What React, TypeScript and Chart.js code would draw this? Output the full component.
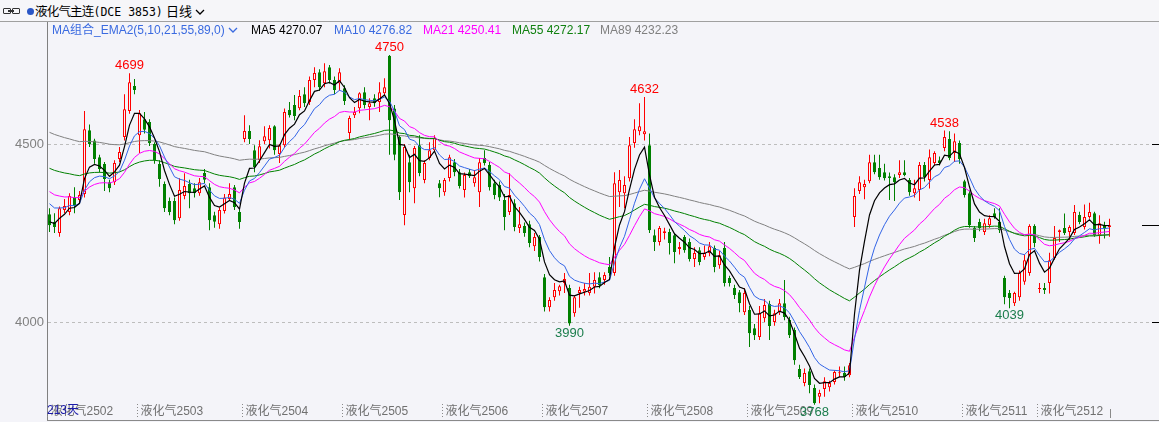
import React, { useEffect, useRef } from 'react';
import { Chart, registerables } from 'chart.js';

Chart.register(...registerables);

// ---- data (daily OHLC) ----
const opens = [
  4303, 4281, 4250, 4315, 4309, 4351, 4343, 4360, 4539, 4510, 4463, 4444, 4393, 4393, 4458, 4520, 4593, 4663, 4525, 4570,
  4562, 4500, 4444, 4388, 4340, 4340, 4292, 4354, 4388, 4376, 4362, 4419, 4379, 4300, 4275, 4312, 4346, 4379, 4309, 4514,
  4537, 4483, 4455, 4508, 4511, 4550, 4472, 4497, 4596, 4610, 4601, 4640, 4618, 4680, 4702, 4671, 4716, 4680, 4671, 4657,
  4531, 4581, 4601, 4646, 4604, 4629, 4618, 4643, 4748, 4600, 4520, 4301, 4449, 4376, 4497, 4399, 4461, 4483, 4390, 4365,
  4405, 4449, 4421, 4371, 4421, 4390, 4365, 4461, 4441, 4390, 4385, 4343, 4309, 4334, 4264, 4270, 4275, 4213, 4239, 4126,
  4042, 4070, 4087, 4110, 4096, 4025, 4082, 4085, 4082, 4099, 4126, 4118, 4155, 4138, 4365, 4362, 4404, 4503, 4536, 4528,
  4497, 4244, 4225, 4250, 4253, 4244, 4205, 4239, 4225, 4177, 4202, 4183, 4194, 4208, 4160, 4208, 4124, 4096, 4084, 4028,
  4034, 3983, 3958, 4011, 4051, 4000, 4028, 4053, 4006, 3978, 3868, 3829, 3862, 3815, 3790, 3812, 3817, 3832, 3856, 3857,
  3851, 4295, 4368, 4379, 4396, 4449, 4433, 4421, 4410, 4407, 4413, 4421, 4399, 4362, 4371, 4441, 4399, 4447, 4455, 4489,
  4514, 4475, 4503, 4396, 4362, 4264, 4281, 4253, 4272, 4306, 4281, 4124, 4082, 4053, 4070, 4113, 4138, 4270, 4093, 4096,
  4110, 4180, 4253, 4264, 4253, 4250, 4301, 4267, 4295, 4306, 4244, 4270, 4267,
];
const highs = [
  4320, 4306, 4325, 4346, 4362, 4379, 4368, 4593, 4555, 4515, 4470, 4450, 4400, 4455, 4492, 4640, 4699, 4683, 4596, 4590,
  4570, 4505, 4455, 4395, 4350, 4350, 4404, 4418, 4400, 4390, 4405, 4430, 4390, 4310, 4322, 4360, 4390, 4385, 4315, 4581,
  4553, 4497, 4511, 4550, 4553, 4553, 4500, 4600, 4618, 4638, 4652, 4660, 4690, 4716, 4710, 4727, 4722, 4690, 4713, 4665,
  4580, 4604, 4646, 4660, 4629, 4640, 4674, 4685, 4750, 4610, 4525, 4500, 4470, 4495, 4525, 4455, 4505, 4525, 4399, 4405,
  4470, 4458, 4430, 4420, 4430, 4427, 4461, 4483, 4450, 4400, 4395, 4360, 4418, 4345, 4323, 4280, 4285, 4250, 4245, 4135,
  4070, 4110, 4105, 4138, 4105, 4075, 4099, 4110, 4138, 4140, 4140, 4140, 4183, 4421, 4427, 4410, 4520, 4570, 4615, 4632,
  4530, 4260, 4270, 4265, 4262, 4250, 4225, 4245, 4235, 4210, 4210, 4215, 4225, 4215, 4200, 4225, 4130, 4105, 4090, 4095,
  4045, 3995, 4045, 4065, 4060, 4035, 4065, 4118, 4015, 3985, 3880, 3870, 3870, 3825, 3810, 3845, 3835, 3865, 3875, 3875,
  3885, 4376, 4410, 4400, 4470, 4470, 4470, 4445, 4420, 4415, 4455, 4455, 4405, 4400, 4450, 4450, 4485, 4480, 4465, 4538,
  4536, 4530, 4510, 4400, 4370, 4270, 4290, 4290, 4300, 4320, 4320, 4130, 4090, 4085, 4145, 4190, 4275, 4275, 4110, 4110,
  4195, 4270, 4260, 4305, 4272, 4329, 4310, 4330, 4335, 4310, 4300, 4282, 4290,
];
const lows = [
  4253, 4250, 4240, 4306, 4300, 4306, 4335, 4350, 4492, 4445, 4420, 4368, 4365, 4385, 4450, 4510, 4585, 4640, 4475, 4530,
  4495, 4445, 4380, 4309, 4300, 4275, 4285, 4345, 4320, 4350, 4355, 4390, 4258, 4265, 4262, 4305, 4340, 4315, 4262, 4505,
  4500, 4421, 4447, 4500, 4488, 4470, 4447, 4490, 4575, 4567, 4595, 4604, 4610, 4660, 4650, 4660, 4670, 4640, 4650, 4610,
  4511, 4573, 4587, 4600, 4567, 4605, 4590, 4635, 4470, 4455, 4343, 4272, 4365, 4334, 4410, 4390, 4455, 4478, 4351, 4355,
  4395, 4410, 4375, 4350, 4405, 4380, 4323, 4440, 4370, 4345, 4340, 4258, 4301, 4255, 4250, 4240, 4210, 4200, 4170, 4030,
  4030, 4060, 4075, 4082, 3990, 4015, 4040, 4075, 4075, 4080, 4095, 4105, 4130, 4130, 4323, 4320, 4395, 4490, 4525, 4510,
  4250, 4200, 4215, 4232, 4190, 4165, 4190, 4195, 4170, 4155, 4160, 4175, 4185, 4140, 4150, 4100, 4100, 4065, 4028, 4020,
  3930, 3950, 3950, 4000, 3950, 3990, 4020, 4005, 3955, 3880, 3840, 3820, 3800, 3768, 3772, 3790, 3805, 3825, 3845, 3835,
  3845, 4267, 4360, 4345, 4390, 4415, 4400, 4398, 4343, 4340, 4405, 4410, 4355, 4350, 4340, 4395, 4375, 4440, 4440, 4480,
  4455, 4450, 4445, 4350, 4265, 4225, 4255, 4245, 4265, 4290, 4250, 4050, 4039, 4045, 4060, 4105, 4130, 4210, 4082, 4079,
  4080, 4175, 4225, 4245, 4230, 4245, 4275, 4260, 4290, 4240, 4220, 4235, 4240,
];
const closes = [
  4272, 4267, 4320, 4326, 4354, 4326, 4357, 4542, 4500, 4458, 4430, 4402, 4376, 4447, 4478, 4598, 4674, 4652, 4587, 4540,
  4503, 4455, 4402, 4320, 4309, 4286, 4371, 4382, 4362, 4362, 4393, 4400, 4286, 4282, 4315, 4350, 4360, 4323, 4281, 4537,
  4514, 4435, 4494, 4522, 4545, 4483, 4497, 4590, 4581, 4579, 4635, 4615, 4680, 4700, 4660, 4705, 4680, 4652, 4702, 4621,
  4573, 4590, 4643, 4610, 4615, 4615, 4646, 4660, 4567, 4470, 4365, 4492, 4393, 4489, 4419, 4447, 4483, 4517, 4376, 4399,
  4463, 4421, 4382, 4413, 4410, 4407, 4449, 4447, 4379, 4357, 4350, 4295, 4357, 4267, 4275, 4250, 4222, 4239, 4183, 4042,
  4062, 4090, 4101, 4121, 3996, 4070, 4090, 4093, 4099, 4118, 4104, 4132, 4138, 4390, 4399, 4385, 4497, 4542, 4550, 4536,
  4258, 4225, 4264, 4255, 4222, 4197, 4211, 4202, 4177, 4194, 4169, 4194, 4213, 4155, 4188, 4110, 4110, 4076, 4053, 4082,
  3969, 3963, 4025, 4048, 3989, 4025, 4053, 4014, 3963, 3893, 3846, 3857, 3823, 3772, 3801, 3834, 3829, 3860, 3859, 3846,
  3879, 4354, 4393, 4388, 4449, 4421, 4407, 4404, 4405, 4393, 4421, 4413, 4365, 4376, 4441, 4407, 4463, 4475, 4447, 4520,
  4461, 4508, 4458, 4357, 4272, 4236, 4264, 4278, 4292, 4295, 4258, 4070, 4068, 4082, 4138, 4174, 4270, 4222, 4096, 4090,
  4174, 4236, 4258, 4250, 4267, 4309, 4281, 4295, 4309, 4244, 4278, 4264, 4272,
];

const maPeriods = [5, 10, 21, 55, 89];
const maSeeds = [4287, 4346, 4376, 4438, 4539];
const maColors = ['#000000', '#3264e6', '#ff00ff', '#008000', '#808080'];
const maLegend = ['MA5 4270.07', 'MA10 4276.82', 'MA21 4250.41', 'MA55 4272.17', 'MA89 4232.23'];
const legendColors = ['#000000', '#3a6ae0', '#ff00ff', '#108010', '#808080'];
const legendX = [251, 334, 423, 512, 600];

const xTickIdx = [0, 18, 39, 59, 79, 99, 120, 140, 161, 183, 198];
const xTickLabels = [
  '液化气2502', '液化气2503', '液化气2504', '液化气2505', '液化气2506', '液化气2507',
  '液化气2508', '液化气2509', '液化气2510', '液化气2511', '液化气2512',
];
const yTicks = [4000, 4500];
const highMarks = [16, 68, 119, 179];
const lowMarks = [104, 153, 192];
const dayCountLabel = '213天';

const BG = '#f4f4f9';
const UP = '#ff0000';
const DOWN = '#008000';

function ema(values: number[], n: number, seed: number): number[] {
  const a = 2 / (n + 1);
  let e = seed;
  return values.map((v) => (e = e + a * (v - e)));
}

const Chevron = ({ color }: { color: string }) => (
  <svg width="10" height="7" style={{ display: 'inline-block', verticalAlign: 'middle', marginLeft: 3 }}>
    <polyline points="1,1 5,5 9,1" fill="none" stroke={color} strokeWidth="1.3" />
  </svg>
);

export default function App() {
  const ref = useRef<HTMLCanvasElement | null>(null);

  useEffect(() => {
    const canvas = ref.current;
    if (!canvas) return;
    const idx = closes.map((_, i) => i);
    const up = closes.map((c, i) => c >= opens[i]);
    const mas = maPeriods.map((p, k) => ema(closes, p, maSeeds[k]));

    const overlay = {
      id: 'overlay',
      afterDatasetsDraw(chart: any) {
        const { ctx, chartArea } = chart;
        const x = chart.scales.x;
        const y = chart.scales.y;
        ctx.save();
        // bottom axis line
        ctx.strokeStyle = '#8a8a8a';
        ctx.lineWidth = 1;
        ctx.beginPath();
        ctx.moveTo(chartArea.left, Math.round(chartArea.bottom) + 0.5);
        ctx.lineTo(chartArea.right, Math.round(chartArea.bottom) + 0.5);
        ctx.stroke();

        // x labels inside the plot, with dotted tick marks
        const ly = chartArea.bottom - 9;
        ctx.font = '12px "Liberation Sans", "Noto Sans CJK SC", sans-serif';
        ctx.textBaseline = 'middle';
        ctx.textAlign = 'left';
        xTickIdx.forEach((k, j) => {
          const px = Math.round(x.getPixelForValue(k - 0.5)) + 0.5;
          ctx.strokeStyle = '#8a8a8a';
          ctx.setLineDash([1, 2]);
          ctx.beginPath();
          ctx.moveTo(px, ly - 7);
          ctx.lineTo(px, ly + 7);
          ctx.stroke();
          ctx.setLineDash([]);
          ctx.fillStyle = '#707070';
          ctx.fillText(xTickLabels[j], px + 3, ly + 1);
        });
        // end marker
        const ex = Math.round(x.getPixelForValue(closes.length - 1)) + 0.5;
        ctx.strokeStyle = '#8a8a8a';
        ctx.beginPath();
        ctx.moveTo(ex, ly - 2);
        ctx.lineTo(ex, ly + 7);
        ctx.stroke();
        // day count
        ctx.fillStyle = '#1a1aa8';
        ctx.fillText(dayCountLabel, chartArea.left, ly);

        // extreme annotations
        ctx.font = '13px "Liberation Sans", sans-serif';
        ctx.textAlign = 'center';
        ctx.textBaseline = 'bottom';
        ctx.fillStyle = '#ff0000';
        highMarks.forEach((i) => {
          ctx.fillText(String(highs[i]), x.getPixelForValue(i), y.getPixelForValue(highs[i]) - 1);
        });
        ctx.textBaseline = 'top';
        ctx.fillStyle = '#1b7d4c';
        lowMarks.forEach((i) => {
          ctx.fillText(String(lows[i]), x.getPixelForValue(i), y.getPixelForValue(lows[i]) + 1);
        });

        // right side markers
        ctx.strokeStyle = '#000000';
        yTicks.forEach((v) => {
          const py = Math.round(y.getPixelForValue(v)) + 0.5;
          ctx.beginPath();
          ctx.moveTo(chartArea.right - 7, py);
          ctx.lineTo(chartArea.right, py);
          ctx.stroke();
        });
        const lp = Math.round(y.getPixelForValue(closes[closes.length - 1])) + 0.5;
        ctx.beginPath();
        ctx.moveTo(chartArea.right - 17, lp);
        ctx.lineTo(chartArea.right, lp);
        ctx.stroke();
        ctx.restore();
      },
    };

    const chart = new Chart(canvas, {
      type: 'bar',
      data: {
        datasets: [
          ...maPeriods.map((p, k) => ({
            type: 'line' as const,
            label: 'MA' + p,
            data: mas[k].map((v, i) => ({ x: i, y: v })),
            borderColor: maColors[k],
            borderWidth: k === 0 ? 1.2 : 1,
            pointRadius: 0,
            tension: 0,
            order: 0,
          })),
          {
            type: 'bar' as const,
            label: 'body',
            data: idx.map((i) => ({ x: i, y: [opens[i], closes[i]] })),
            backgroundColor: up.map((u) => (u ? BG : DOWN)),
            borderColor: up.map((u) => (u ? UP : DOWN)),
            borderWidth: 1,
            borderSkipped: false,
            barThickness: 3,
            minBarLength: 1,
            grouped: false,
            inflateAmount: 0,
            order: 1,
          },
          {
            type: 'bar' as const,
            label: 'wick',
            data: idx.map((i) => ({ x: i, y: [lows[i], highs[i]] })),
            backgroundColor: up.map((u) => (u ? UP : DOWN)),
            borderWidth: 0,
            barThickness: 1,
            grouped: false,
            inflateAmount: 0,
            order: 2,
          },
        ] as any,
      },
      options: {
        animation: false,
        responsive: false,
        devicePixelRatio: 1,
        events: [],
        layout: { padding: { top: 0, right: 0, bottom: 2, left: 0 } },
        plugins: { legend: { display: false }, tooltip: { enabled: false } },
        scales: {
          x: { type: 'linear', min: -0.5, max: 221.9, display: false, offset: false },
          y: {
            type: 'linear',
            position: 'left',
            min: 3725,
            max: 4843,
            afterBuildTicks: (s: any) => {
              s.ticks = yTicks.map((v) => ({ value: v }));
            },
            afterFit: (s: any) => {
              s.width = 47;
              s.paddingTop = 0;
              s.paddingBottom = 0;
            },
            grid: { color: '#bdbdbd', lineWidth: 1, drawTicks: false },
            border: { display: true, color: '#808080', width: 1, dash: [3, 3] },
            ticks: {
              padding: 3,
              color: '#808080',
              font: { family: 'Liberation Sans', size: 13 },
              callback: (v: any) => String(v),
            },
          },
        },
      } as any,
      plugins: [overlay],
    });
    return () => chart.destroy();
  }, []);

  return (
    <div
      style={{
        position: 'absolute',
        left: 0,
        top: 0,
        width: 1159,
        height: 422,
        background: BG,
        overflow: 'hidden',
        fontFamily: '"Liberation Sans", "Noto Sans CJK SC", sans-serif',
      }}
    >
      {/* header bar */}
      <div style={{ position: 'absolute', left: 0, top: 0, width: 1159, height: 21, background: '#f6f6f9', borderBottom: '1px solid #a0a0a0' }}>
        <div style={{ position: 'absolute', left: 3, top: 8, width: 6, height: 4, border: '1.5px solid #333', borderRadius: 1 }} />
        <div style={{ position: 'absolute', left: 12, top: 8, width: 6, height: 4, border: '1.5px solid #333', borderRadius: 1 }} />
        <div style={{ position: 'absolute', left: 8, top: 10, width: 6, height: 1.5, background: '#333' }} />
        <div style={{ position: 'absolute', left: 27, top: 8, width: 7, height: 7, borderRadius: '50%', background: '#2a56c6' }} />
        <div style={{ position: 'absolute', left: 35, top: 2, height: 18, lineHeight: '18px', whiteSpace: 'nowrap', color: '#000' }}>
          <span style={{ fontFamily: '"Noto Sans CJK SC"', fontSize: 12.5, letterSpacing: -0.8 }}>液化气主连</span>
          <span style={{ fontFamily: '"DejaVu Sans Mono"', fontSize: 11.5 }}>(DCE 3853)</span>
        </div>
        <div style={{ position: 'absolute', left: 166, top: 2, height: 18, lineHeight: '18px', whiteSpace: 'nowrap', color: '#000', fontFamily: '"Noto Sans CJK SC"', fontSize: 13 }}>
          日线<Chevron color="#000" />
        </div>
      </div>

      <canvas ref={ref} width={1159} height={400} style={{ position: 'absolute', left: 0, top: 22, width: 1159, height: 400 }} />

      {/* indicator legend */}
      <div style={{ position: 'absolute', left: 52, top: 23, height: 15, lineHeight: '15px', fontSize: 12, whiteSpace: 'nowrap', color: '#3a6ae0' }}>
        MA组合_EMA2(5,10,21,55,89,0)<Chevron color="#3a6ae0" />
      </div>
      {maLegend.map((t, k) => (
        <div
          key={t}
          style={{ position: 'absolute', left: legendX[k], top: 23, height: 15, lineHeight: '15px', fontSize: 12, whiteSpace: 'nowrap', color: legendColors[k] }}
        >
          {t}
        </div>
      ))}
    </div>
  );
}
